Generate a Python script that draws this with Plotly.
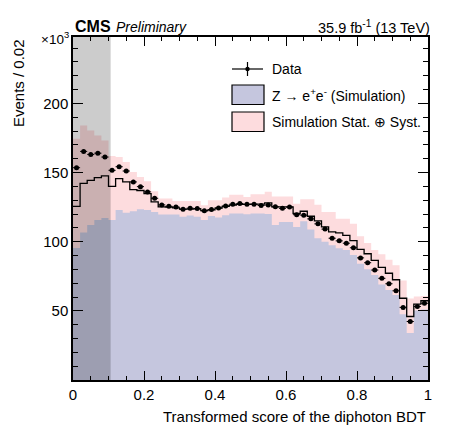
import numpy as np
import plotly.graph_objects as go

# ---------------- data (values in units of 10^3 events per bin of 0.02) -------------
bin_width = 0.02
n_bins = 50

data_vals = [153.5, 165.3, 163.1, 164.0, 161.2, 151.6, 154.2, 151.1, 143.2, 139.8,
             136.0, 131.4, 126.6, 125.6, 125.1, 123.4, 124.2, 124.0, 122.3, 123.2,
             124.4, 125.8, 127.1, 127.6, 127.0, 127.0, 126.2, 126.5, 125.2, 124.1,
             125.0, 119.5, 119.2, 116.5, 112.9, 109.1, 102.5, 100.6, 98.9, 95.6,
             88.3, 84.8, 79.5, 73.5, 69.6, 64.5, 52.5, 42.3, 53.1, 55.5]

mc_vals = [125.6, 142.2, 144.4, 146.3, 147.6, 140.0, 145.6, 143.2, 137.6, 137.0,
           134.8, 128.8, 125.2, 125.0, 124.5, 123.5, 123.5, 123.8, 122.5, 123.0,
           124.2, 125.5, 126.5, 127.0, 127.0, 127.1, 127.1, 128.0, 125.2, 125.2,
           125.2, 120.4, 122.0, 118.4, 115.1, 110.7, 107.1, 106.4, 104.5, 100.8,
           94.4, 91.3, 86.5, 81.4, 77.2, 72.5, 59.1, 45.9, 54.8, 57.3]

band_hi = [174.4, 184.0, 180.4, 176.8, 173.2, 162.0, 161.2, 157.6, 150.4, 146.8,
           143.7, 136.5, 131.2, 131.2, 129.5, 129.5, 129.5, 129.5, 126.4, 130.0,
           130.0, 132.0, 134.0, 134.0, 132.4, 134.3, 134.3, 136.2, 132.6, 132.6,
           132.6, 127.4, 130.7, 130.7, 126.8, 121.5, 121.5, 116.6, 116.6, 113.0,
           104.0, 99.0, 94.0, 91.0, 87.0, 83.0, 72.0, 59.0, 60.3, 60.8]

band_lo = [95.5, 106.7, 112.0, 115.6, 117.2, 115.6, 123.0, 121.0, 122.0, 123.5,
           123.0, 121.5, 119.6, 119.6, 119.6, 118.0, 119.0, 118.0, 115.6, 118.5,
           117.5, 119.2, 120.4, 120.4, 119.8, 120.4, 120.4, 120.0, 112.0, 114.3,
           114.3, 110.7, 114.8, 108.9, 102.4, 99.9, 97.5, 95.2, 94.0, 90.3,
           84.0, 80.0, 76.0, 69.0, 65.0, 61.5, 47.5, 33.9, 50.3, 51.0]

x_tick_vals = [0, 0.2, 0.4, 0.6, 0.8, 1.0]
x_tick_text = ["0", "0.2", "0.4", "0.6", "0.8", "1"]
y_tick_vals = [50, 100, 150, 200]
y_tick_text = ["50", "100", "150", "200"]

blind_region = [0.0, 0.106]

# ---------------- geometry ----------------
W, H = 461, 442
L, R, T, B = 73, 33, 37, 62
PW, PH = W - L - R, H - T - B


def px(x):
    return (x - L) / PW


def py(y):
    return (H - B - y) / PH


edges = np.linspace(0, 1, n_bins + 1)
centers = 0.5 * (edges[:-1] + edges[1:])


def step(v):
    return list(v) + [v[-1]]


BLUE = "#c5c6de"
PINK = "#fddcde"
FONT = "Liberation Sans, Arial, Helvetica, sans-serif"

fig = go.Figure()

fig.add_trace(go.Scatter(x=edges, y=step(mc_vals), mode="lines", line_shape="hv",
                         line=dict(width=0, color=BLUE), fill="tozeroy",
                         fillcolor=BLUE, hoverinfo="skip"))
fig.add_trace(go.Scatter(x=edges, y=step(band_lo), mode="lines", line_shape="hv",
                         line=dict(width=0, color=PINK), hoverinfo="skip"))
fig.add_trace(go.Scatter(x=edges, y=step(band_hi), mode="lines", line_shape="hv",
                         line=dict(width=0, color=PINK), fill="tonexty",
                         fillcolor=PINK, hoverinfo="skip"))
fig.add_trace(go.Scatter(x=edges, y=step(mc_vals), mode="lines", line_shape="hv",
                         line=dict(width=1.3, color="black"), hoverinfo="skip"))
fig.add_trace(go.Scatter(x=centers, y=data_vals, mode="markers",
                         marker=dict(size=5, color="black"),
                         error_x=dict(type="constant", value=bin_width / 2,
                                      thickness=1, width=0, color="black"),
                         hoverinfo="skip"))

shapes = []
# blinded region
shapes.append(dict(type="rect", xref="x", yref="paper", x0=blind_region[0],
                   x1=blind_region[1], y0=0, y1=1, fillcolor="rgba(0,0,0,0.2)",
                   line=dict(width=0), layer="above"))

# legend symbols
shapes.append(dict(type="line", xref="paper", yref="paper", x0=px(232), x1=px(263),
                   y0=py(69), y1=py(69), line=dict(color="black", width=1.2)))
shapes.append(dict(type="line", xref="paper", yref="paper", x0=px(247.5), x1=px(247.5),
                   y0=py(62), y1=py(76), line=dict(color="black", width=1.2)))
shapes.append(dict(type="circle", xref="paper", yref="paper", x0=px(245.3), x1=px(249.7),
                   y0=py(71.2), y1=py(66.8), fillcolor="black", line=dict(width=0)))
shapes.append(dict(type="rect", xref="paper", yref="paper", x0=px(232), x1=px(264),
                   y0=py(104.5), y1=py(85), fillcolor=BLUE,
                   line=dict(color="black", width=1.2)))
shapes.append(dict(type="rect", xref="paper", yref="paper", x0=px(232), x1=px(264),
                   y0=py(131.5), y1=py(112), fillcolor=PINK,
                   line=dict(color="black", width=1.2)))

annotations = [
    dict(text="<b>CMS</b>", x=px(72.5), y=py(26), xanchor="left", yanchor="middle",
         font=dict(size=16, family=FONT)),
    dict(text="<i>Preliminary</i>", x=px(114), y=py(27), xanchor="left", yanchor="middle",
         font=dict(size=14, family=FONT)),
    dict(text="35.9 fb<sup>-1</sup> (13 TeV)", x=px(432), y=py(27), xanchor="right",
         yanchor="middle", font=dict(size=14.5, family=FONT)),
    dict(text="×10<sup>3</sup>", x=px(71), y=py(38), xanchor="right", yanchor="middle",
         font=dict(size=13.5, family=FONT)),
    dict(text="Events / 0.02", x=px(18), y=py(37), xanchor="center", yanchor="top",
         textangle=-90, font=dict(size=15, family=FONT)),
    dict(text="Transformed score of the diphoton BDT", x=px(427.5), y=py(416),
         xanchor="right", yanchor="middle", font=dict(size=15, family=FONT)),
    dict(text="Data", x=px(270), y=py(69), xanchor="left", yanchor="middle",
         font=dict(size=14, family=FONT)),
    dict(text="Z → e<sup>+</sup>e<sup>-</sup> (Simulation)", x=px(270), y=py(95),
         xanchor="left", yanchor="middle", font=dict(size=14, family=FONT)),
    dict(text="Simulation Stat. ⊕ Syst.", x=px(270), y=py(122), xanchor="left",
         yanchor="middle", font=dict(size=14, family=FONT)),
]
for a in annotations:
    a.update(xref="paper", yref="paper", showarrow=False)

fig.update_layout(
    width=W, height=H, margin=dict(l=L, r=R, t=T, b=B, pad=0),
    paper_bgcolor="white", plot_bgcolor="white", showlegend=False,
    font=dict(family=FONT, color="black"),
    shapes=shapes, annotations=annotations,
    xaxis=dict(range=[0, 1], tickvals=x_tick_vals, ticktext=x_tick_text,
               ticks="inside", ticklen=9, tickwidth=1, tickcolor="black",
               mirror="allticks", showline=True, linecolor="black", linewidth=1.5,
               showgrid=False, zeroline=False, tickfont=dict(size=15, family=FONT),
               minor=dict(ticks="inside", dtick=0.05, tick0=0, ticklen=4.5,
                          tickwidth=1, tickcolor="black", showgrid=False)),
    yaxis=dict(range=[0, 248], tickvals=y_tick_vals, ticktext=y_tick_text,
               ticks="inside", ticklen=10, tickwidth=1, tickcolor="black",
               mirror="allticks", showline=True, linecolor="black", linewidth=1.5,
               showgrid=False, zeroline=False, tickfont=dict(size=15, family=FONT),
               minor=dict(ticks="inside", dtick=10, tick0=0, ticklen=5,
                          tickwidth=1, tickcolor="black", showgrid=False)),
)

fig.write_html("out.html")
